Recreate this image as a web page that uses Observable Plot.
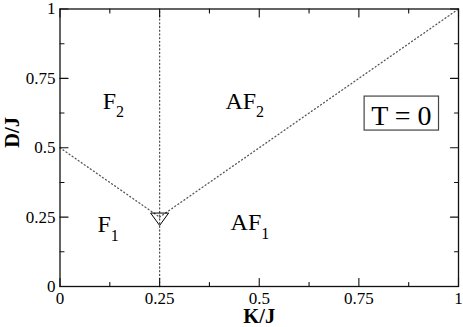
<!DOCTYPE html>
<html><head><meta charset="utf-8">
<script src="https://cdn.jsdelivr.net/npm/d3@7"></script>
<script src="https://cdn.jsdelivr.net/npm/@observablehq/plot@0.6"></script>
<style>html,body{margin:0;padding:0;background:#fff;} svg text{font-family:"Liberation Serif","Times New Roman",serif !important;}</style>
</head><body><div id="chart"></div>
<script>
// Tick values and labels
const xTicks = [0, 0.25, 0.5, 0.75, 1];
const xTickLabels = ["0", "0.25", "0.5", "0.75", "1"];
const yTicks = [0, 0.25, 0.5, 0.75, 1];
const yTickLabels = ["0", "0.25", "0.5", "0.75", "1"];
const minorTicks = [0.125, 0.375, 0.625, 0.875];

// Phase boundaries [K/J, D/J]
const boundaryF1F2 = [[0, 0.5], [0.25, 0.25]];
const boundaryAF1AF2 = [[0.25, 0.25], [1, 1]];
const boundaryFAF = [[0.25, 0], [0.25, 1]];
const multicritical = [[0.25, 0.25]];

// Region labels
const regionNames = ["F", "AF", "F", "AF"];
const regionSubs = ["2", "2", "1", "1"];
const regionK = [0.107, 0.415, 0.094, 0.428];
const regionD = [0.641, 0.641, 0.195, 0.202];

// Temperature annotation
const tempLabel = ["T = 0"];
const tempK = [0.8565];
const tempD = [0.614];

const xLabel = "K/J";
const yLabel = "D/J";

const W = 463, H = 327;
const mL = 59.5, mR = 5, mT = 8.5, mB = 41;
const FONT = "Liberation Serif";

const tickShape = {draw(ctx, l) { ctx.moveTo(0, 0); ctx.lineTo(0, -l); }};
const triangleDown = {draw(ctx, size) {
  const r = Math.sqrt(size / Math.PI);
  ctx.moveTo(-r * 2, -r * 0.9);
  ctx.lineTo(r * 2, -r * 0.9);
  ctx.lineTo(0, r * 1.85);
  ctx.closePath();
}};

function ticks(values, len, side) {
  const rot = {bottom: 0, top: 180, left: 90, right: -90}[side];
  const ch = (side === "bottom" || side === "top") ? {x: d => d} : {y: d => d};
  return Plot.vector(values, {...ch, frameAnchor: side, length: len, rotate: rot, anchor: "start",
    shape: tickShape, stroke: "#111", strokeWidth: 1.1});
}

const lineStyle = {stroke: "#555", strokeWidth: 1.3, strokeDasharray: "1,2.7"};

const plot = Plot.plot({
  width: W, height: H,
  marginLeft: mL, marginRight: mR, marginTop: mT, marginBottom: mB,
  x: {domain: [0, 1]},
  y: {domain: [0, 1]},
  style: {fontFamily: FONT, fontSize: "17px", color: "#000", background: "#fff"},
  marks: [
    Plot.line(boundaryFAF, {x: d => d[0], y: d => d[1], ...lineStyle}),
    Plot.line(boundaryF1F2, {x: d => d[0], y: d => d[1], ...lineStyle}),
    Plot.line(boundaryAF1AF2, {x: d => d[0], y: d => d[1], ...lineStyle}),
    Plot.dot(multicritical, {x: d => d[0], y: d => d[1], r: 4.5, symbol: triangleDown, stroke: "#000", strokeWidth: 1, fill: "none"}),
    ...["bottom", "top", "left", "right"].flatMap(s => [ticks(xTicks, 8, s), ticks(minorTicks, 4, s)]),
    Plot.axisX({ticks: xTicks, tickSize: 0, tickPadding: 5, tickFormat: d => xTickLabels[xTicks.indexOf(d)], label: null, fill: "#000", fontFamily: FONT, fontSize: 17}),
    Plot.axisY({ticks: yTicks, tickSize: 0, tickPadding: 4.5, tickFormat: d => yTickLabels[yTicks.indexOf(d)], label: null, fill: "#000", fontFamily: FONT, fontSize: 17}),
    Plot.frame({stroke: "#111", strokeWidth: 1.3}),
    Plot.text(regionNames, {x: (d, i) => regionK[i], y: (d, i) => regionD[i], text: d => d,
      textAnchor: "start", lineAnchor: "bottom", fontSize: 24, fill: "#000", fontFamily: FONT}),
    Plot.text(tempLabel, {x: (d, i) => tempK[i], y: (d, i) => tempD[i], text: d => d,
      textAnchor: "middle", lineAnchor: "middle", fontSize: 28, fill: "#000", fontFamily: FONT}),
    Plot.text([xLabel], {frameAnchor: "bottom", dy: 36.5, lineAnchor: "bottom", text: d => d,
      fontSize: 20.5, fontWeight: "bold", fill: "#000", fontFamily: FONT}),
    Plot.text([yLabel], {frameAnchor: "left", dx: 12 - mL, rotate: -90, lineAnchor: "middle", text: d => d,
      fontSize: 20.5, fontWeight: "bold", fill: "#000", fontFamily: FONT})
  ]
});
document.getElementById("chart").appendChild(plot);

// subscripts on region labels (matched in data order)
const allTexts = Array.from(plot.querySelectorAll("text"));
let ri = 0;
for (const t of allTexts) {
  if (ri < regionNames.length && t.textContent === regionNames[ri]) {
    d3.select(t).append("tspan").attr("dy", 8.5).attr("font-size", 16).text(regionSubs[ri]);
    ri++;
  }
}
// box around T = 0
for (const t of allTexts) {
  if (t.textContent === tempLabel[0]) {
    const b = t.getBBox();
    const tr = t.getAttribute("transform");
    const rect = document.createElementNS("http://www.w3.org/2000/svg", "rect");
    if (tr) rect.setAttribute("transform", tr);
    rect.setAttribute("x", b.x - 7);
    rect.setAttribute("y", b.y - 4);
    rect.setAttribute("width", b.width + 14);
    rect.setAttribute("height", b.height + 3);
    rect.setAttribute("fill", "none");
    rect.setAttribute("stroke", "#444");
    rect.setAttribute("stroke-width", 1.2);
    t.parentNode.insertBefore(rect, t);
  }
}
</script>
</body></html>
